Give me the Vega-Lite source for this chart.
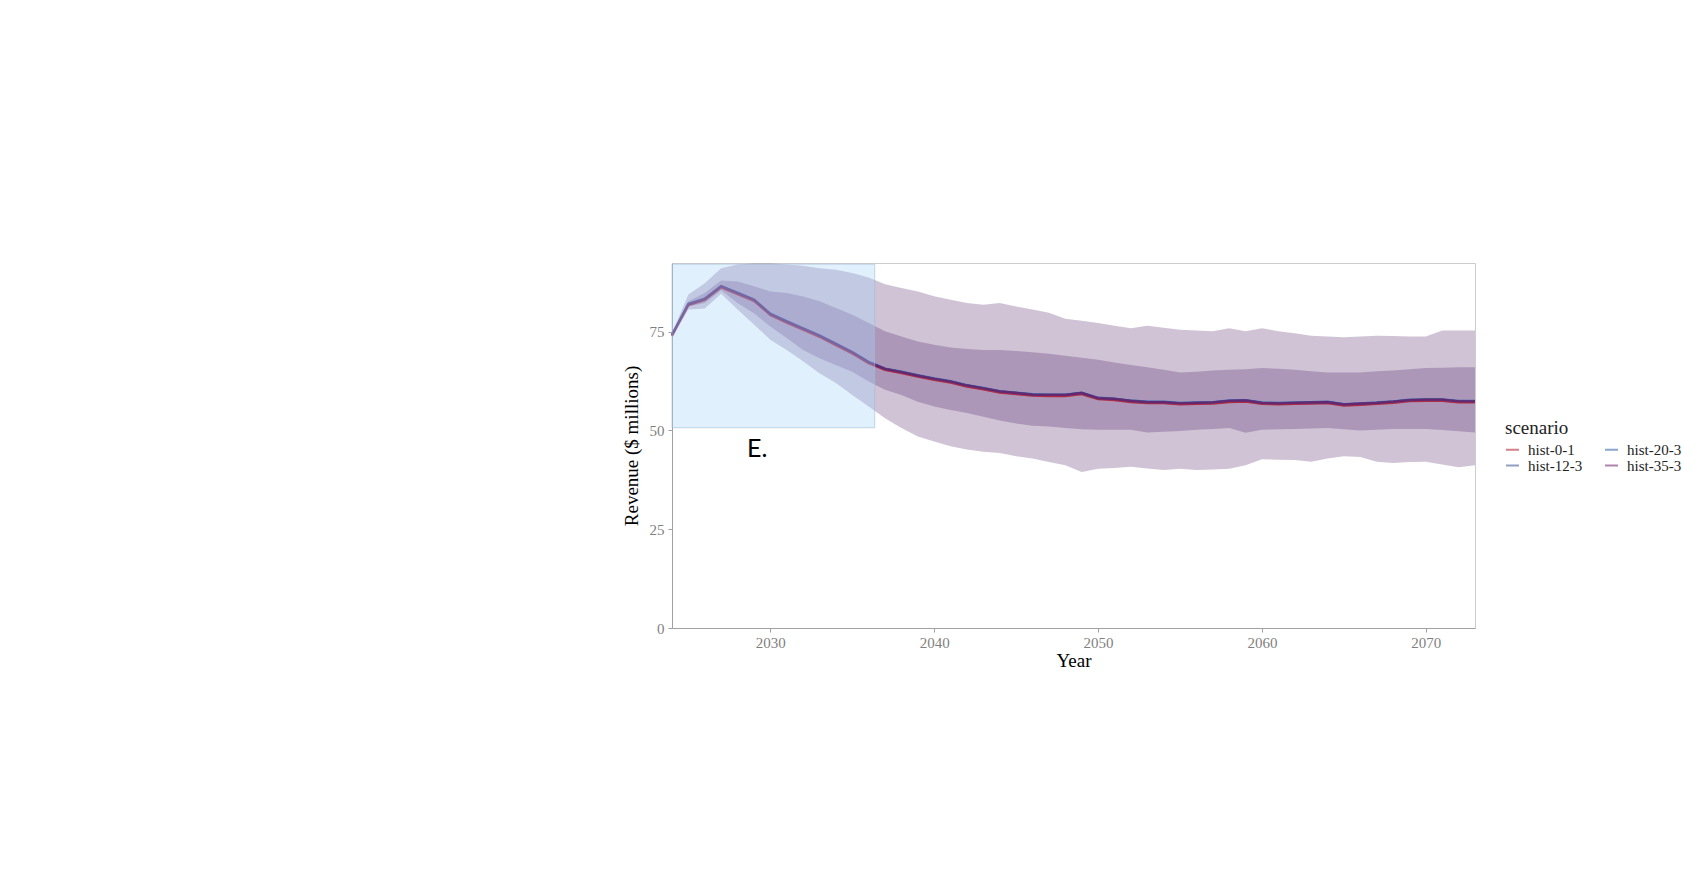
{
  "$schema": "https://vega.github.io/schema/vega-lite/v6.json",
  "autosize": {"type": "none"},
  "padding": {"left": 672, "top": 263, "right": 230, "bottom": 255},
  "width": 803,
  "height": 365,
  "background": "white",
  "datasets": {
    "bands": [
      {"year": 2024, "lo95": 73.8, "lo50": 74.0, "hi50": 74.4, "hi95": 74.6},
      {"year": 2025, "lo95": 80.6, "lo50": 81.4, "hi50": 82.7, "hi95": 84.4},
      {"year": 2026, "lo95": 80.9, "lo50": 82.3, "hi50": 84.8, "hi95": 87.3},
      {"year": 2027, "lo95": 84.6, "lo50": 85.5, "hi50": 88.0, "hi95": 91.1},
      {"year": 2028, "lo95": 80.6, "lo50": 82.3, "hi50": 87.7, "hi95": 92.0},
      {"year": 2029, "lo95": 76.8, "lo50": 79.7, "hi50": 86.5, "hi95": 92.3},
      {"year": 2030, "lo95": 73.0, "lo50": 76.3, "hi50": 85.2, "hi95": 92.3},
      {"year": 2031, "lo95": 70.4, "lo50": 73.4, "hi50": 84.8, "hi95": 92.0},
      {"year": 2032, "lo95": 67.5, "lo50": 70.4, "hi50": 83.9, "hi95": 91.7},
      {"year": 2033, "lo95": 64.5, "lo50": 68.3, "hi50": 82.7, "hi95": 91.1},
      {"year": 2034, "lo95": 62.0, "lo50": 66.6, "hi50": 81.0, "hi95": 90.7},
      {"year": 2035, "lo95": 59.0, "lo50": 64.9, "hi50": 79.3, "hi95": 89.9},
      {"year": 2036, "lo95": 56.1, "lo50": 62.4, "hi50": 77.2, "hi95": 88.7},
      {"year": 2037, "lo95": 53.1, "lo50": 60.3, "hi50": 75.1, "hi95": 87.0},
      {"year": 2038, "lo95": 50.6, "lo50": 59.0, "hi50": 73.8, "hi95": 86.1},
      {"year": 2039, "lo95": 48.5, "lo50": 57.3, "hi50": 72.5, "hi95": 85.2},
      {"year": 2040, "lo95": 47.2, "lo50": 56.1, "hi50": 71.7, "hi95": 84.0},
      {"year": 2041, "lo95": 46.0, "lo50": 55.2, "hi50": 71.0, "hi95": 83.1},
      {"year": 2042, "lo95": 45.2, "lo50": 54.4, "hi50": 70.6, "hi95": 82.3},
      {"year": 2043, "lo95": 44.6, "lo50": 53.5, "hi50": 70.4, "hi95": 81.8},
      {"year": 2044, "lo95": 44.3, "lo50": 52.5, "hi50": 70.4, "hi95": 82.3},
      {"year": 2045, "lo95": 43.5, "lo50": 51.8, "hi50": 70.1, "hi95": 81.4},
      {"year": 2046, "lo95": 42.9, "lo50": 51.2, "hi50": 69.8, "hi95": 80.6},
      {"year": 2047, "lo95": 42.0, "lo50": 51.0, "hi50": 69.4, "hi95": 79.8},
      {"year": 2048, "lo95": 41.2, "lo50": 50.6, "hi50": 68.9, "hi95": 78.3},
      {"year": 2049, "lo95": 39.5, "lo50": 50.3, "hi50": 68.4, "hi95": 77.8},
      {"year": 2050, "lo95": 40.3, "lo50": 50.2, "hi50": 67.9, "hi95": 77.2},
      {"year": 2051, "lo95": 40.5, "lo50": 50.2, "hi50": 67.2, "hi95": 76.5},
      {"year": 2052, "lo95": 40.8, "lo50": 50.2, "hi50": 66.6, "hi95": 75.9},
      {"year": 2053, "lo95": 40.4, "lo50": 49.5, "hi50": 66.0, "hi95": 76.5},
      {"year": 2054, "lo95": 40.0, "lo50": 49.7, "hi50": 65.4, "hi95": 76.0},
      {"year": 2055, "lo95": 40.3, "lo50": 49.9, "hi50": 64.7, "hi95": 75.5},
      {"year": 2056, "lo95": 40.0, "lo50": 50.2, "hi50": 64.9, "hi95": 75.3},
      {"year": 2057, "lo95": 40.1, "lo50": 50.4, "hi50": 65.2, "hi95": 75.1},
      {"year": 2058, "lo95": 40.3, "lo50": 50.6, "hi50": 65.4, "hi95": 75.9},
      {"year": 2059, "lo95": 41.2, "lo50": 49.4, "hi50": 65.5, "hi95": 75.1},
      {"year": 2060, "lo95": 42.7, "lo50": 50.2, "hi50": 65.8, "hi95": 75.9},
      {"year": 2061, "lo95": 42.6, "lo50": 50.3, "hi50": 65.6, "hi95": 75.1},
      {"year": 2062, "lo95": 42.5, "lo50": 50.4, "hi50": 65.4, "hi95": 74.6},
      {"year": 2063, "lo95": 42.1, "lo50": 50.5, "hi50": 65.0, "hi95": 74.0},
      {"year": 2064, "lo95": 42.9, "lo50": 50.6, "hi50": 64.7, "hi95": 73.8},
      {"year": 2065, "lo95": 43.5, "lo50": 50.3, "hi50": 64.7, "hi95": 73.6},
      {"year": 2066, "lo95": 43.3, "lo50": 50.0, "hi50": 64.7, "hi95": 73.8},
      {"year": 2067, "lo95": 42.1, "lo50": 50.2, "hi50": 65.0, "hi95": 74.0},
      {"year": 2068, "lo95": 41.8, "lo50": 50.4, "hi50": 65.2, "hi95": 73.9},
      {"year": 2069, "lo95": 42.0, "lo50": 50.4, "hi50": 65.5, "hi95": 73.8},
      {"year": 2070, "lo95": 42.1, "lo50": 50.4, "hi50": 65.8, "hi95": 73.8},
      {"year": 2071, "lo95": 41.4, "lo50": 50.1, "hi50": 65.9, "hi95": 75.3},
      {"year": 2072, "lo95": 40.7, "lo50": 49.8, "hi50": 66.0, "hi95": 75.3},
      {"year": 2073, "lo95": 41.2, "lo50": 49.5, "hi50": 66.0, "hi95": 75.3}
    ],
    "lines": [
      {"year": 2024, "scenario": "hist-0-1", "revenue": 73.9}, {"year": 2025, "scenario": "hist-0-1", "revenue": 81.7}, {"year": 2026, "scenario": "hist-0-1", "revenue": 83.0}, {"year": 2027, "scenario": "hist-0-1", "revenue": 86.2}, {"year": 2028, "scenario": "hist-0-1", "revenue": 84.5}, {"year": 2029, "scenario": "hist-0-1", "revenue": 82.8}, {"year": 2030, "scenario": "hist-0-1", "revenue": 79.2}, {"year": 2031, "scenario": "hist-0-1", "revenue": 77.3}, {"year": 2032, "scenario": "hist-0-1", "revenue": 75.5}, {"year": 2033, "scenario": "hist-0-1", "revenue": 73.7}, {"year": 2034, "scenario": "hist-0-1", "revenue": 71.6}, {"year": 2035, "scenario": "hist-0-1", "revenue": 69.5}, {"year": 2036, "scenario": "hist-0-1", "revenue": 67.0}, {"year": 2037, "scenario": "hist-0-1", "revenue": 65.3}, {"year": 2038, "scenario": "hist-0-1", "revenue": 64.5}, {"year": 2039, "scenario": "hist-0-1", "revenue": 63.6}, {"year": 2040, "scenario": "hist-0-1", "revenue": 62.8}, {"year": 2041, "scenario": "hist-0-1", "revenue": 62.1}, {"year": 2042, "scenario": "hist-0-1", "revenue": 61.1}, {"year": 2043, "scenario": "hist-0-1", "revenue": 60.4}, {"year": 2044, "scenario": "hist-0-1", "revenue": 59.6}, {"year": 2045, "scenario": "hist-0-1", "revenue": 59.2}, {"year": 2046, "scenario": "hist-0-1", "revenue": 58.8}, {"year": 2047, "scenario": "hist-0-1", "revenue": 58.7}, {"year": 2048, "scenario": "hist-0-1", "revenue": 58.7}, {"year": 2049, "scenario": "hist-0-1", "revenue": 59.2}, {"year": 2050, "scenario": "hist-0-1", "revenue": 57.9}, {"year": 2051, "scenario": "hist-0-1", "revenue": 57.7}, {"year": 2052, "scenario": "hist-0-1", "revenue": 57.2}, {"year": 2053, "scenario": "hist-0-1", "revenue": 56.9}, {"year": 2054, "scenario": "hist-0-1", "revenue": 56.9}, {"year": 2055, "scenario": "hist-0-1", "revenue": 56.6}, {"year": 2056, "scenario": "hist-0-1", "revenue": 56.7}, {"year": 2057, "scenario": "hist-0-1", "revenue": 56.8}, {"year": 2058, "scenario": "hist-0-1", "revenue": 57.2}, {"year": 2059, "scenario": "hist-0-1", "revenue": 57.3}, {"year": 2060, "scenario": "hist-0-1", "revenue": 56.7}, {"year": 2061, "scenario": "hist-0-1", "revenue": 56.6}, {"year": 2062, "scenario": "hist-0-1", "revenue": 56.7}, {"year": 2063, "scenario": "hist-0-1", "revenue": 56.8}, {"year": 2064, "scenario": "hist-0-1", "revenue": 56.9}, {"year": 2065, "scenario": "hist-0-1", "revenue": 56.3}, {"year": 2066, "scenario": "hist-0-1", "revenue": 56.5}, {"year": 2067, "scenario": "hist-0-1", "revenue": 56.7}, {"year": 2068, "scenario": "hist-0-1", "revenue": 57.0}, {"year": 2069, "scenario": "hist-0-1", "revenue": 57.4}, {"year": 2070, "scenario": "hist-0-1", "revenue": 57.5}, {"year": 2071, "scenario": "hist-0-1", "revenue": 57.5}, {"year": 2072, "scenario": "hist-0-1", "revenue": 57.1}, {"year": 2073, "scenario": "hist-0-1", "revenue": 57.1},
      {"year": 2024, "scenario": "hist-12-3", "revenue": 74.2}, {"year": 2025, "scenario": "hist-12-3", "revenue": 82.0}, {"year": 2026, "scenario": "hist-12-3", "revenue": 83.3}, {"year": 2027, "scenario": "hist-12-3", "revenue": 86.5}, {"year": 2028, "scenario": "hist-12-3", "revenue": 84.8}, {"year": 2029, "scenario": "hist-12-3", "revenue": 83.1}, {"year": 2030, "scenario": "hist-12-3", "revenue": 79.5}, {"year": 2031, "scenario": "hist-12-3", "revenue": 77.6}, {"year": 2032, "scenario": "hist-12-3", "revenue": 75.8}, {"year": 2033, "scenario": "hist-12-3", "revenue": 74.0}, {"year": 2034, "scenario": "hist-12-3", "revenue": 71.9}, {"year": 2035, "scenario": "hist-12-3", "revenue": 69.8}, {"year": 2036, "scenario": "hist-12-3", "revenue": 67.3}, {"year": 2037, "scenario": "hist-12-3", "revenue": 65.6}, {"year": 2038, "scenario": "hist-12-3", "revenue": 64.8}, {"year": 2039, "scenario": "hist-12-3", "revenue": 63.9}, {"year": 2040, "scenario": "hist-12-3", "revenue": 63.1}, {"year": 2041, "scenario": "hist-12-3", "revenue": 62.4}, {"year": 2042, "scenario": "hist-12-3", "revenue": 61.4}, {"year": 2043, "scenario": "hist-12-3", "revenue": 60.7}, {"year": 2044, "scenario": "hist-12-3", "revenue": 59.9}, {"year": 2045, "scenario": "hist-12-3", "revenue": 59.5}, {"year": 2046, "scenario": "hist-12-3", "revenue": 59.1}, {"year": 2047, "scenario": "hist-12-3", "revenue": 59.0}, {"year": 2048, "scenario": "hist-12-3", "revenue": 59.0}, {"year": 2049, "scenario": "hist-12-3", "revenue": 59.5}, {"year": 2050, "scenario": "hist-12-3", "revenue": 58.2}, {"year": 2051, "scenario": "hist-12-3", "revenue": 58.0}, {"year": 2052, "scenario": "hist-12-3", "revenue": 57.5}, {"year": 2053, "scenario": "hist-12-3", "revenue": 57.2}, {"year": 2054, "scenario": "hist-12-3", "revenue": 57.2}, {"year": 2055, "scenario": "hist-12-3", "revenue": 56.9}, {"year": 2056, "scenario": "hist-12-3", "revenue": 57.0}, {"year": 2057, "scenario": "hist-12-3", "revenue": 57.1}, {"year": 2058, "scenario": "hist-12-3", "revenue": 57.5}, {"year": 2059, "scenario": "hist-12-3", "revenue": 57.6}, {"year": 2060, "scenario": "hist-12-3", "revenue": 57.0}, {"year": 2061, "scenario": "hist-12-3", "revenue": 56.9}, {"year": 2062, "scenario": "hist-12-3", "revenue": 57.0}, {"year": 2063, "scenario": "hist-12-3", "revenue": 57.1}, {"year": 2064, "scenario": "hist-12-3", "revenue": 57.2}, {"year": 2065, "scenario": "hist-12-3", "revenue": 56.6}, {"year": 2066, "scenario": "hist-12-3", "revenue": 56.8}, {"year": 2067, "scenario": "hist-12-3", "revenue": 57.0}, {"year": 2068, "scenario": "hist-12-3", "revenue": 57.3}, {"year": 2069, "scenario": "hist-12-3", "revenue": 57.7}, {"year": 2070, "scenario": "hist-12-3", "revenue": 57.8}, {"year": 2071, "scenario": "hist-12-3", "revenue": 57.8}, {"year": 2072, "scenario": "hist-12-3", "revenue": 57.4}, {"year": 2073, "scenario": "hist-12-3", "revenue": 57.4},
      {"year": 2024, "scenario": "hist-20-3", "revenue": 74.3}, {"year": 2025, "scenario": "hist-20-3", "revenue": 82.1}, {"year": 2026, "scenario": "hist-20-3", "revenue": 83.4}, {"year": 2027, "scenario": "hist-20-3", "revenue": 86.6}, {"year": 2028, "scenario": "hist-20-3", "revenue": 84.9}, {"year": 2029, "scenario": "hist-20-3", "revenue": 83.2}, {"year": 2030, "scenario": "hist-20-3", "revenue": 79.6}, {"year": 2031, "scenario": "hist-20-3", "revenue": 77.7}, {"year": 2032, "scenario": "hist-20-3", "revenue": 75.9}, {"year": 2033, "scenario": "hist-20-3", "revenue": 74.1}, {"year": 2034, "scenario": "hist-20-3", "revenue": 72.0}, {"year": 2035, "scenario": "hist-20-3", "revenue": 69.9}, {"year": 2036, "scenario": "hist-20-3", "revenue": 67.4}, {"year": 2037, "scenario": "hist-20-3", "revenue": 65.7}, {"year": 2038, "scenario": "hist-20-3", "revenue": 64.9}, {"year": 2039, "scenario": "hist-20-3", "revenue": 64.0}, {"year": 2040, "scenario": "hist-20-3", "revenue": 63.2}, {"year": 2041, "scenario": "hist-20-3", "revenue": 62.5}, {"year": 2042, "scenario": "hist-20-3", "revenue": 61.5}, {"year": 2043, "scenario": "hist-20-3", "revenue": 60.8}, {"year": 2044, "scenario": "hist-20-3", "revenue": 60.0}, {"year": 2045, "scenario": "hist-20-3", "revenue": 59.6}, {"year": 2046, "scenario": "hist-20-3", "revenue": 59.2}, {"year": 2047, "scenario": "hist-20-3", "revenue": 59.1}, {"year": 2048, "scenario": "hist-20-3", "revenue": 59.1}, {"year": 2049, "scenario": "hist-20-3", "revenue": 59.6}, {"year": 2050, "scenario": "hist-20-3", "revenue": 58.3}, {"year": 2051, "scenario": "hist-20-3", "revenue": 58.1}, {"year": 2052, "scenario": "hist-20-3", "revenue": 57.6}, {"year": 2053, "scenario": "hist-20-3", "revenue": 57.3}, {"year": 2054, "scenario": "hist-20-3", "revenue": 57.3}, {"year": 2055, "scenario": "hist-20-3", "revenue": 57.0}, {"year": 2056, "scenario": "hist-20-3", "revenue": 57.1}, {"year": 2057, "scenario": "hist-20-3", "revenue": 57.2}, {"year": 2058, "scenario": "hist-20-3", "revenue": 57.6}, {"year": 2059, "scenario": "hist-20-3", "revenue": 57.7}, {"year": 2060, "scenario": "hist-20-3", "revenue": 57.1}, {"year": 2061, "scenario": "hist-20-3", "revenue": 57.0}, {"year": 2062, "scenario": "hist-20-3", "revenue": 57.1}, {"year": 2063, "scenario": "hist-20-3", "revenue": 57.2}, {"year": 2064, "scenario": "hist-20-3", "revenue": 57.3}, {"year": 2065, "scenario": "hist-20-3", "revenue": 56.7}, {"year": 2066, "scenario": "hist-20-3", "revenue": 56.9}, {"year": 2067, "scenario": "hist-20-3", "revenue": 57.1}, {"year": 2068, "scenario": "hist-20-3", "revenue": 57.4}, {"year": 2069, "scenario": "hist-20-3", "revenue": 57.8}, {"year": 2070, "scenario": "hist-20-3", "revenue": 57.9}, {"year": 2071, "scenario": "hist-20-3", "revenue": 57.9}, {"year": 2072, "scenario": "hist-20-3", "revenue": 57.5}, {"year": 2073, "scenario": "hist-20-3", "revenue": 57.5},
      {"year": 2024, "scenario": "hist-35-3", "revenue": 74.2}, {"year": 2025, "scenario": "hist-35-3", "revenue": 82.0}, {"year": 2026, "scenario": "hist-35-3", "revenue": 83.3}, {"year": 2027, "scenario": "hist-35-3", "revenue": 86.5}, {"year": 2028, "scenario": "hist-35-3", "revenue": 84.8}, {"year": 2029, "scenario": "hist-35-3", "revenue": 83.1}, {"year": 2030, "scenario": "hist-35-3", "revenue": 79.5}, {"year": 2031, "scenario": "hist-35-3", "revenue": 77.6}, {"year": 2032, "scenario": "hist-35-3", "revenue": 75.8}, {"year": 2033, "scenario": "hist-35-3", "revenue": 74.0}, {"year": 2034, "scenario": "hist-35-3", "revenue": 71.9}, {"year": 2035, "scenario": "hist-35-3", "revenue": 69.8}, {"year": 2036, "scenario": "hist-35-3", "revenue": 67.3}, {"year": 2037, "scenario": "hist-35-3", "revenue": 65.6}, {"year": 2038, "scenario": "hist-35-3", "revenue": 64.8}, {"year": 2039, "scenario": "hist-35-3", "revenue": 63.9}, {"year": 2040, "scenario": "hist-35-3", "revenue": 63.1}, {"year": 2041, "scenario": "hist-35-3", "revenue": 62.4}, {"year": 2042, "scenario": "hist-35-3", "revenue": 61.4}, {"year": 2043, "scenario": "hist-35-3", "revenue": 60.7}, {"year": 2044, "scenario": "hist-35-3", "revenue": 59.9}, {"year": 2045, "scenario": "hist-35-3", "revenue": 59.5}, {"year": 2046, "scenario": "hist-35-3", "revenue": 59.1}, {"year": 2047, "scenario": "hist-35-3", "revenue": 59.0}, {"year": 2048, "scenario": "hist-35-3", "revenue": 59.0}, {"year": 2049, "scenario": "hist-35-3", "revenue": 59.5}, {"year": 2050, "scenario": "hist-35-3", "revenue": 58.2}, {"year": 2051, "scenario": "hist-35-3", "revenue": 58.0}, {"year": 2052, "scenario": "hist-35-3", "revenue": 57.5}, {"year": 2053, "scenario": "hist-35-3", "revenue": 57.2}, {"year": 2054, "scenario": "hist-35-3", "revenue": 57.2}, {"year": 2055, "scenario": "hist-35-3", "revenue": 56.9}, {"year": 2056, "scenario": "hist-35-3", "revenue": 57.0}, {"year": 2057, "scenario": "hist-35-3", "revenue": 57.1}, {"year": 2058, "scenario": "hist-35-3", "revenue": 57.5}, {"year": 2059, "scenario": "hist-35-3", "revenue": 57.6}, {"year": 2060, "scenario": "hist-35-3", "revenue": 57.0}, {"year": 2061, "scenario": "hist-35-3", "revenue": 56.9}, {"year": 2062, "scenario": "hist-35-3", "revenue": 57.0}, {"year": 2063, "scenario": "hist-35-3", "revenue": 57.1}, {"year": 2064, "scenario": "hist-35-3", "revenue": 57.2}, {"year": 2065, "scenario": "hist-35-3", "revenue": 56.6}, {"year": 2066, "scenario": "hist-35-3", "revenue": 56.8}, {"year": 2067, "scenario": "hist-35-3", "revenue": 57.0}, {"year": 2068, "scenario": "hist-35-3", "revenue": 57.3}, {"year": 2069, "scenario": "hist-35-3", "revenue": 57.7}, {"year": 2070, "scenario": "hist-35-3", "revenue": 57.8}, {"year": 2071, "scenario": "hist-35-3", "revenue": 57.8}, {"year": 2072, "scenario": "hist-35-3", "revenue": 57.4}, {"year": 2073, "scenario": "hist-35-3", "revenue": 57.4}
    ],
    "highlight": [
      {"x_start": 2024, "x_end": 2036.37, "y_low": 50.7, "y_high": 92.1, "label": "E.", "label_year": 2029.2, "label_revenue": 45.3}
    ]
  },
  "config": {
    "view": {"stroke": "#cccccc", "strokeWidth": 1},
    "axis": {
      "grid": false,
      "labelFont": "Liberation Serif",
      "labelFontSize": 15,
      "labelColor": "#7f7f7f",
      "tickColor": "#a0a0a0",
      "tickSize": 4,
      "domainColor": "#a0a0a0",
      "titleFont": "Liberation Serif",
      "titleFontSize": 19,
      "titleFontWeight": "normal",
      "titleColor": "#000000"
    },
    "legend": {
      "titleFont": "Liberation Serif",
      "titleFontSize": 19,
      "titleFontWeight": "normal",
      "titleColor": "#222222",
      "labelFont": "Liberation Serif",
      "labelFontSize": 15,
      "labelColor": "#222222"
    }
  },
  "layer": [
    {
      "data": {"name": "bands"},
      "mark": {"type": "area", "color": "#4f1e65", "opacity": 0.267},
      "encoding": {
        "x": {"field": "year", "type": "quantitative", "scale": {"domain": [2024, 2073], "nice": false, "zero": false},
              "axis": {"values": [2030, 2040, 2050, 2060, 2070], "format": "d", "title": "Year", "labelPadding": 3, "titlePadding": 1}},
        "y": {"field": "lo95", "type": "quantitative", "scale": {"domain": [0, 92.4], "nice": false},
              "axis": {"values": [0, 25, 50, 75], "title": "Revenue ($ millions)", "labelPadding": 4, "titlePadding": 8}},
        "y2": {"field": "hi95"}
      }
    },
    {
      "data": {"name": "bands"},
      "mark": {"type": "area", "color": "#4f1e65", "opacity": 0.267},
      "encoding": {
        "x": {"field": "year", "type": "quantitative"},
        "y": {"field": "lo50", "type": "quantitative"},
        "y2": {"field": "hi50"}
      }
    },
    {
      "data": {"name": "lines"},
      "mark": {"type": "line", "strokeWidth": 2.2, "opacity": 0.85},
      "encoding": {
        "x": {"field": "year", "type": "quantitative"},
        "y": {"field": "revenue", "type": "quantitative"},
        "color": {
          "field": "scenario", "type": "nominal",
          "scale": {"domain": ["hist-0-1", "hist-12-3", "hist-20-3", "hist-35-3"], "range": ["#b2182b", "#3b4f8f", "#2c5fa8", "#6d1f6a"]},
          "legend": {"title": "scenario", "orient": "none", "legendX": 833, "legendY": 156, "columns": 2, "columnPadding": 18, "rowPadding": 0, "symbolType": "stroke", "symbolSize": 169, "symbolStrokeWidth": 2, "symbolOpacity": 0.55, "labelOffset": 8, "titlePadding": 4}
        }
      }
    },
    {
      "data": {"name": "highlight"},
      "mark": {"type": "rect", "fill": "#a8d4f8", "fillOpacity": 0.35, "stroke": "#9fbcd6", "strokeOpacity": 0.6, "strokeWidth": 1},
      "encoding": {
        "x": {"field": "x_start", "type": "quantitative"},
        "x2": {"field": "x_end"},
        "y": {"field": "y_low", "type": "quantitative"},
        "y2": {"field": "y_high"}
      }
    },
    {
      "data": {"name": "highlight"},
      "mark": {"type": "text", "font": "Lato", "fontSize": 25, "color": "#000000"},
      "encoding": {
        "x": {"field": "label_year", "type": "quantitative"},
        "y": {"field": "label_revenue", "type": "quantitative"},
        "text": {"field": "label"}
      }
    }
  ]
}
